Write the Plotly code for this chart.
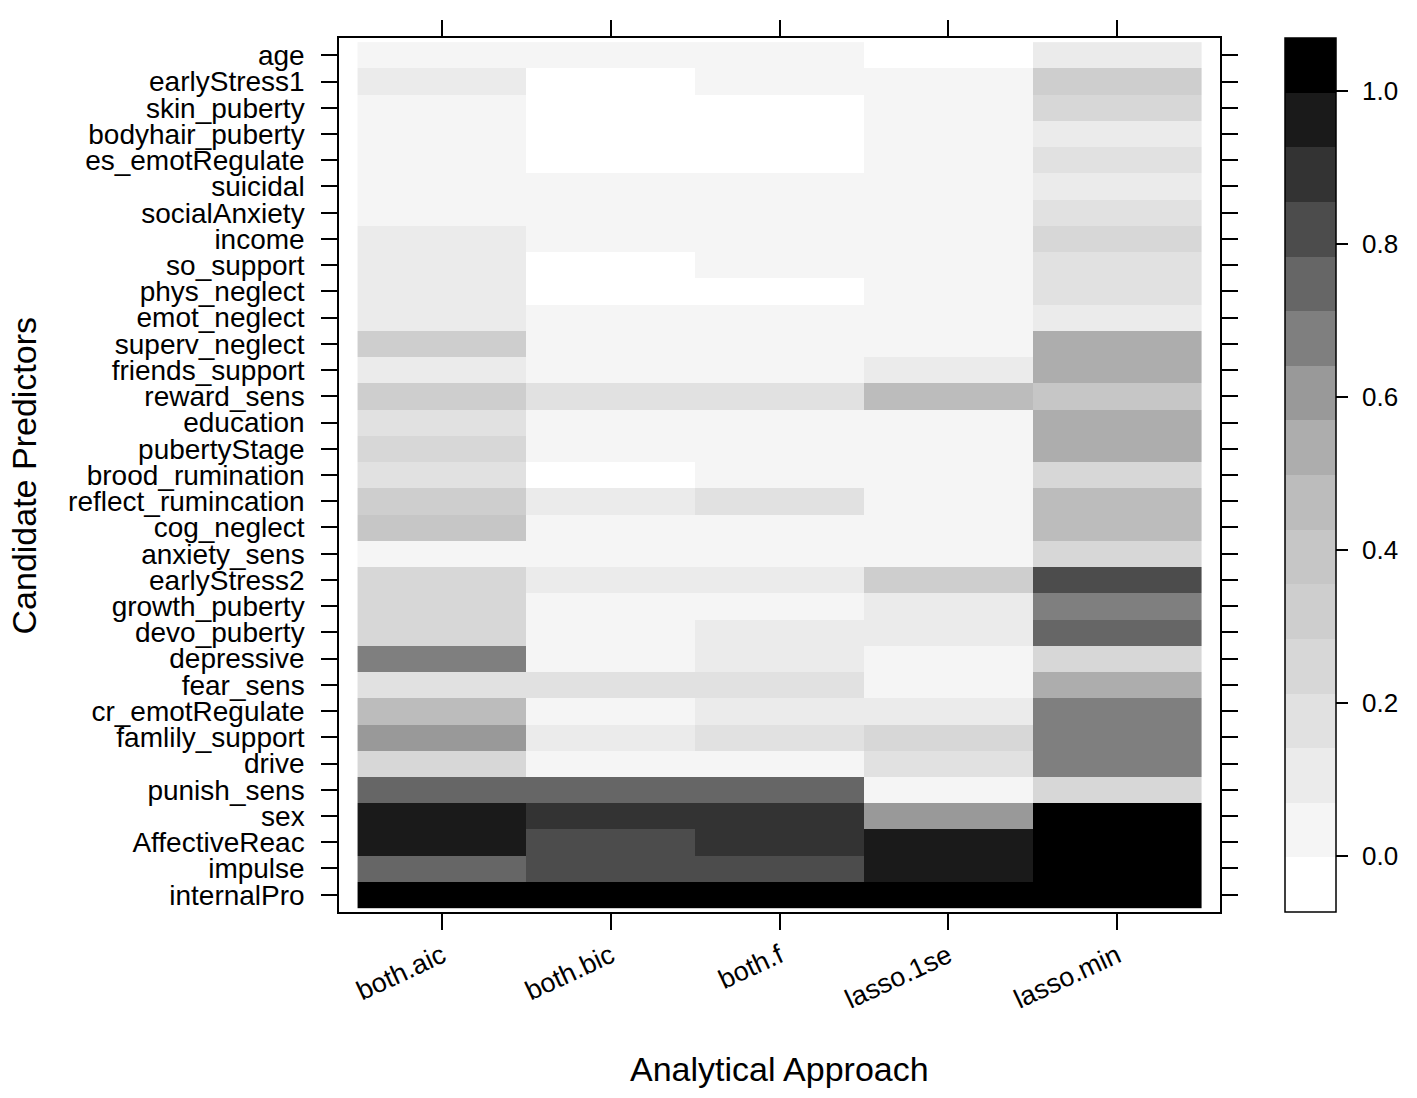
import plotly.graph_objects as go

# approaches (columns) and predictors (rows, top to bottom)
approaches = ["both.aic", "both.bic", "both.f", "lasso.1se", "lasso.min"]
predictors = [
    "age", "earlyStress1", "skin_puberty", "bodyhair_puberty", "es_emotRegulate",
    "suicidal", "socialAnxiety", "income", "so_support", "phys_neglect",
    "emot_neglect", "superv_neglect", "friends_support", "reward_sens", "education",
    "pubertyStage", "brood_rumination", "reflect_rumincation", "cog_neglect",
    "anxiety_sens", "earlyStress2", "growth_puberty", "devo_puberty", "depressive",
    "fear_sens", "cr_emotRegulate", "famlily_support", "drive", "punish_sens",
    "sex", "AffectiveReac", "impulse", "internalPro",
]

# None = predictor not in that model (cell left blank)
both_aic = [0.0, 0.1, 0.0, 0.0, 0.0, 0.0, 0.0, 0.1, 0.1, 0.1, 0.1, 0.32, 0.1, 0.32,
            0.18, 0.25, 0.18, 0.32, 0.39, 0.0, 0.25, 0.25, 0.25, 0.68, 0.18, 0.46,
            0.6, 0.25, 0.75, 0.96, 0.96, 0.75, 1.0]
both_bic = [0.0, None, None, None, None, 0.0, 0.0, 0.0, None, None, 0.0, 0.0, 0.0, 0.18,
            0.0, 0.0, None, 0.1, 0.0, 0.0, 0.1, 0.0, 0.0, 0.0, 0.18, 0.0,
            0.1, 0.0, 0.75, 0.9, 0.82, 0.82, 1.0]
both_f = [0.0, 0.0, None, None, None, 0.0, 0.0, 0.0, 0.0, None, 0.0, 0.0, 0.0, 0.18,
          0.0, 0.0, 0.0, 0.18, 0.0, 0.0, 0.1, 0.0, 0.1, 0.1, 0.18, 0.1,
          0.18, 0.0, 0.75, 0.9, 0.9, 0.82, 1.0]
lasso_1se = [None, 0.0, 0.0, 0.0, 0.0, 0.0, 0.0, 0.0, 0.0, 0.0, 0.0, 0.0, 0.1, 0.46,
             0.0, 0.0, 0.0, 0.0, 0.0, 0.0, 0.32, 0.1, 0.1, 0.0, 0.0, 0.1,
             0.25, 0.18, 0.0, 0.6, 0.96, 0.96, 1.0]
lasso_min = [0.1, 0.32, 0.25, 0.1, 0.18, 0.1, 0.18, 0.25, 0.18, 0.18, 0.1, 0.54, 0.54, 0.39,
             0.54, 0.54, 0.25, 0.46, 0.46, 0.25, 0.82, 0.68, 0.75, 0.25, 0.54, 0.68,
             0.68, 0.68, 0.25, 1.0, 1.0, 1.0, 1.0]

colorbar_ticks = [0.0, 0.2, 0.4, 0.6, 0.8, 1.0]

# 16 grey levels, white -> black (lattice style regions)
greys = [255, 245, 235, 225, 215, 206, 198, 188, 173, 153, 127, 102, 76, 51, 26, 0]
n = len(greys)
cscale = []
for i, g in enumerate(greys):
    c = "rgb(%d,%d,%d)" % (g, g, g)
    cscale.append([i / n, c])
    cscale.append([(i + 1) / n, c])

cols = [both_aic, both_bic, both_f, lasso_1se, lasso_min]
z = [[col[r] for col in cols] for r in range(len(predictors))]

step = 1 / 14
eps = 0.002
font = "Liberation Sans, Arial, sans-serif"

fig = go.Figure(go.Heatmap(
    x=approaches, y=predictors, z=z,
    colorscale=cscale, zmin=-step - eps, zmax=1 + step - eps,
    hoverongaps=False,
    colorbar=dict(
        x=1.0738, xanchor="left", xpad=0, y=0.5, yanchor="middle", ypad=0,
        len=1, lenmode="fraction", thickness=51, thicknessmode="pixels",
        outlinewidth=1.5, outlinecolor="black",
        tickvals=colorbar_ticks,
        ticktext=["\u2004%.1f" % t for t in colorbar_ticks],  # small gap after tick
        ticks="outside", ticklen=12, tickwidth=1.5, tickcolor="black",
        tickfont=dict(family=font, size=26, color="black"),
    ),
))

# page body adds ~8px, so margins are shifted to keep the panel in place
fig.update_layout(
    width=1417, height=1098,
    margin=dict(l=331, r=205, t=24, b=194),
    paper_bgcolor="white", plot_bgcolor="white",
    font=dict(family=font, color="black"),
    xaxis=dict(
        type="category", range=[-0.61, 4.61],
        tickmode="array", tickvals=approaches, ticktext=approaches,
        showline=True, linewidth=1.5, linecolor="black", mirror="ticks",
        ticks="outside", ticklen=16, tickwidth=1.5, tickcolor="black",
        tickangle=-25, tickfont=dict(size=27), showgrid=False, zeroline=False,
        ticklabelstandoff=0,
    ),
    yaxis=dict(
        type="category", range=[len(predictors) - 1 + 0.66, -0.66],
        tickmode="array", tickvals=predictors, ticktext=predictors,
        showline=True, linewidth=1.5, linecolor="black", mirror="ticks",
        ticks="outside", ticklen=16, tickwidth=1.5, tickcolor="black",
        tickfont=dict(size=28), showgrid=False, zeroline=False,
        ticklabelstandoff=11,
    ),
    annotations=[
        dict(text="Analytical Approach", xref="paper", yref="paper", x=0.5, y=-0.18,
             xanchor="center", yanchor="middle", showarrow=False,
             font=dict(size=34)),
        dict(text="Candidate Predictors", xref="paper", yref="paper", x=-0.357, y=0.5,
             xanchor="center", yanchor="middle", textangle=-90, showarrow=False,
             font=dict(size=34)),
    ],
)

fig.write_html("out.html")
